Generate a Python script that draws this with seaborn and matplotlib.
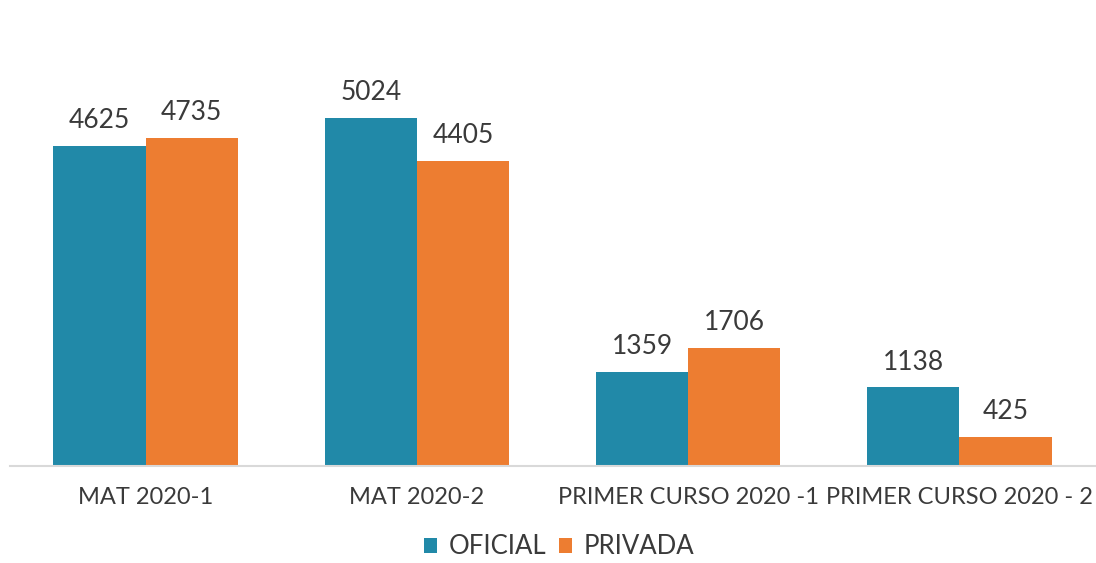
import matplotlib
matplotlib.use('Agg')
import matplotlib.pyplot as plt
import pandas as pd
import seaborn as sns

# datos
categorias = ['MAT 2020-1', 'MAT 2020-2', 'PRIMER CURSO 2020 -1', 'PRIMER CURSO 2020 - 2']
oficial = [4625, 5024, 1359, 1138]
privada = [4735, 4405, 1706, 425]
series = ['OFICIAL', 'PRIVADA']
colores = ['#2189A8', '#ED7D31']

df = pd.DataFrame({
    'categoria': categorias * 2,
    'valor': oficial + privada,
    'tipo': [series[0]] * len(categorias) + [series[1]] * len(categorias),
})

sns.set_style('white')
plt.rcParams['font.family'] = ['Lato', 'DejaVu Sans']
texto = '#3a3a3a'

fig = plt.figure(figsize=(10.96, 5.63), dpi=100)
ax = fig.add_axes([10 / 1096, 97 / 563, 1085 / 1096, 436 / 563])

sns.barplot(data=df, x='categoria', y='valor', hue='tipo', palette=colores,
            width=0.68, gap=0, saturation=1, linewidth=0, ax=ax, legend=True)

for cont in ax.containers:
    ax.bar_label(cont, padding=9, fontsize=19, color=texto)

ax.set_xlim(-0.5, 3.5)
ax.set_ylim(0, 6294)
ax.set_xlabel('')
ax.set_ylabel('')
ax.set_yticks([])
ax.tick_params(axis='x', length=0, pad=15, labelsize=17, labelcolor=texto)
for s in ['top', 'right', 'left']:
    ax.spines[s].set_visible(False)
ax.spines['bottom'].set_color('#d9d9d9')
ax.spines['bottom'].set_linewidth(1.5)

ax.legend(loc='center', bbox_to_anchor=((559 - 10) / 1085, -(547 - 466) / 436),
          ncol=2, frameon=False, fontsize=18.5, labelcolor=texto, borderpad=0.2,
          handlelength=0.5, handleheight=0.5, handletextpad=0.45, columnspacing=0.5)

fig.savefig('out.png', dpi=100)
